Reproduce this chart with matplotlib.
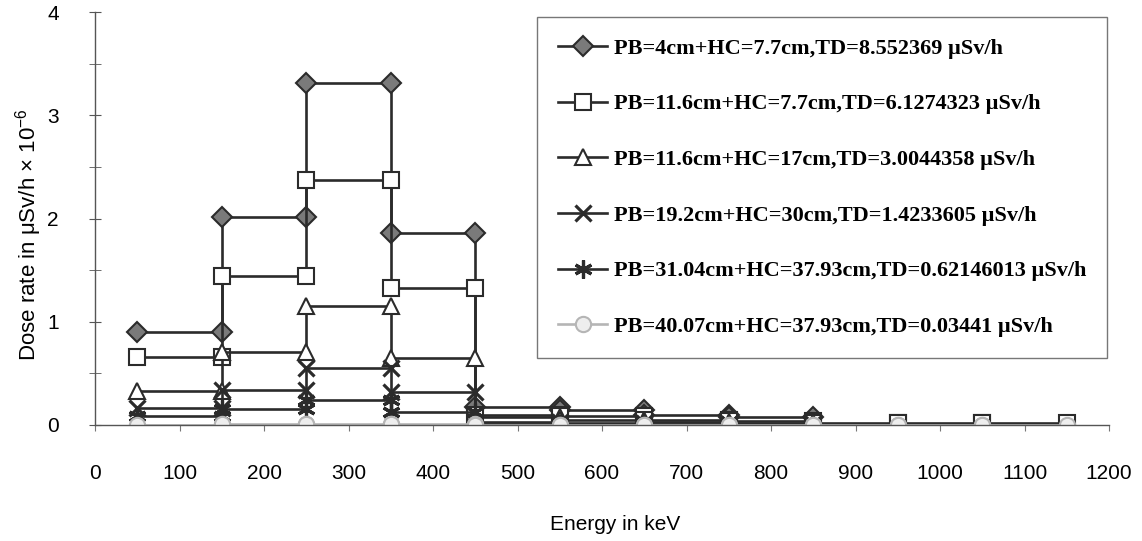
import numpy as np
import matplotlib
matplotlib.use("Agg")
import matplotlib.pyplot as plt
from matplotlib.ticker import MultipleLocator

plt.rcParams['font.family'] = ['Liberation Sans', 'DejaVu Sans']
plt.rcParams['mathtext.fontset'] = 'custom'
plt.rcParams['mathtext.rm'] = 'Liberation Sans'
plt.rcParams['mathtext.it'] = 'Liberation Sans:italic'

# bin edges in keV; each bin is drawn as a flat step between two edges
energy = [50, 150, 250, 350, 450, 550, 650, 750, 850, 950, 1050, 1150]

# dose rate per bin (uSv/h x 1e-6)
pb4_hc77 = [0.905, 2.01, 3.31, 1.86, 0.17, 0.15, 0.10, 0.08]
pb116_hc77 = [0.657, 1.44, 2.37, 1.33, 0.10, 0.09, 0.05, 0.04, 0.02, 0.02, 0.02]
pb116_hc17 = [0.33, 0.71, 1.15, 0.65, 0.08, 0.05, 0.03, 0.02]
pb192_hc30 = [0.16, 0.34, 0.555, 0.32, 0.03, 0.02, 0.01, 0.005]
pb3104_hc3793 = [0.09, 0.155, 0.24, 0.125, 0.01, 0.005, 0.003, 0.002]
pb4007_hc3793 = [0.004, 0.006, 0.008, 0.005, 0.003, 0.002, 0.002, 0.002, 0.001, 0.001, 0.001]

labels = [
    "PB=4cm+HC=7.7cm,TD=8.552369 \u00b5Sv/h",
    "PB=11.6cm+HC=7.7cm,TD=6.1274323 \u00b5Sv/h",
    "PB=11.6cm+HC=17cm,TD=3.0044358 \u00b5Sv/h",
    "PB=19.2cm+HC=30cm,TD=1.4233605 \u00b5Sv/h",
    "PB=31.04cm+HC=37.93cm,TD=0.62146013 \u00b5Sv/h",
    "PB=40.07cm+HC=37.93cm,TD=0.03441 \u00b5Sv/h",
]

series = [pb4_hc77, pb116_hc77, pb116_hc17, pb192_hc30, pb3104_hc3793, pb4007_hc3793]

dark = '#2b2b2b'
styles = [
    dict(marker='D', ms=10.5, mfc='#7a7a7a', mec=dark, color=dark),
    dict(marker='s', ms=12, mfc='white', mec=dark, color=dark),
    dict(marker='^', ms=12, mfc='white', mec=dark, color=dark),
    dict(marker='x', ms=12, mfc='none', mec=dark, color=dark, mew=2.3),
    dict(marker=(6, 2, 0), ms=13, mfc='none', mec=dark, color=dark, mew=2.3),
    dict(marker='o', ms=11, mfc='#eeeeee', mec='#b5b5b5', color='#b5b5b5'),
]


def steps(vals):
    xs, ys = [], []
    for i, v in enumerate(vals):
        xs += [energy[i], energy[i + 1]]
        ys += [v, v]
    return xs, ys


fig = plt.figure(figsize=(11.42, 5.41), dpi=100)
ax = fig.add_axes([95 / 1142, 1 - 425 / 541, 1014 / 1142, 413 / 541])

for vals, lab, st in zip(series, labels, styles):
    xs, ys = steps(vals)
    ax.plot(xs, ys, lw=1.9, mew=st.pop('mew', 1.5), label=lab, **st)

ax.set_xlim(0, 1200)
ax.set_ylim(0, 4)
ax.xaxis.set_major_locator(MultipleLocator(100))
ax.yaxis.set_major_locator(MultipleLocator(1))
ax.yaxis.set_minor_locator(MultipleLocator(0.5))

for s in ['top', 'right']:
    ax.spines[s].set_visible(False)
for s in ['left', 'bottom']:
    ax.spines[s].set_color('#555555')
    ax.spines[s].set_linewidth(1.0)

ax.tick_params(axis='x', direction='out', length=4, color='#777777',
               labelsize=15, pad=24)
ax.tick_params(axis='y', which='both', direction='inout', length=8,
               color='#555555', labelsize=15, pad=22)

ax.set_xlabel("Energy in keV", fontsize=15)
ax.set_ylabel(r"Dose rate in $\mathrm{\mu}$Sv/h $\times$ 10$^{-6}$", fontsize=16)
ax.xaxis.set_label_coords(0.513, -0.242)
ax.yaxis.set_label_coords(-0.066, 0.46)
ax.xaxis.label.set_va('center')
ax.yaxis.label.set_va('center')

leg = ax.legend(loc='upper left', bbox_to_anchor=(537 / 1142, 1 - 17 / 541),
                bbox_transform=fig.transFigure, frameon=True, fancybox=False,
                prop={'family': 'Liberation Serif', 'size': 16, 'weight': 'bold'},
                handlelength=2.2, handletextpad=0.3, labelspacing=1.58,
                borderpad=0.95, borderaxespad=0)
leg.get_frame().set_edgecolor('#555555')
leg.get_frame().set_linewidth(1.0)

fig.savefig("out.png", dpi=100)
